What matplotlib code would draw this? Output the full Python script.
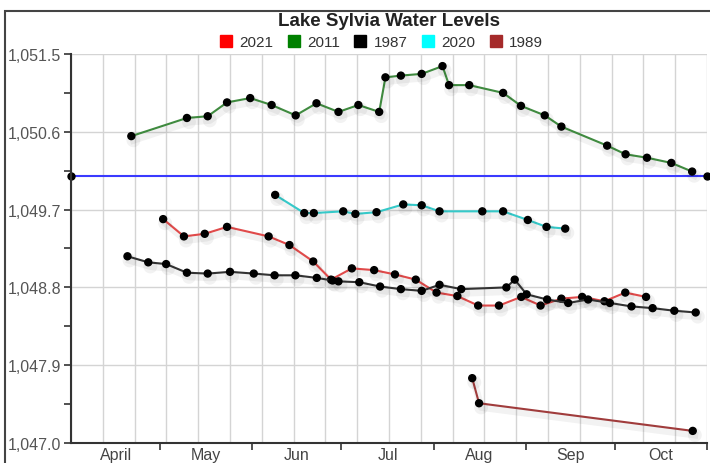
import matplotlib
matplotlib.use('Agg')
import matplotlib.pyplot as plt
import matplotlib.patheffects as pe
from matplotlib.lines import Line2D
from matplotlib.patches import Rectangle
import numpy as np

plt.rcParams['font.family'] = ['Liberation Sans', 'DejaVu Sans']

# x values are days counted from April 1
d2021 = [31, 38, 45, 52.5, 66.5, 73.5, 81.5, 87.5, 94.5, 102, 109, 116, 123, 130,
         137, 144, 151.5, 158, 165, 172, 179.5, 186.5, 193.5]
v2021 = [1049.59, 1049.39, 1049.42, 1049.50, 1049.39, 1049.29, 1049.10, 1048.89,
         1049.02, 1049.00, 1048.95, 1048.89, 1048.74, 1048.70, 1048.59, 1048.59,
         1048.69, 1048.59, 1048.67, 1048.69, 1048.64, 1048.74, 1048.69]

d2011 = [20.3, 39, 46, 52.5, 60.3, 67.5, 75.6, 82.6, 90, 96.7, 103.7, 105.8, 111,
         118, 125, 127.2, 134, 145.4, 151.4, 159.4, 165, 180.4, 186.6, 193.8, 202, 209]
v2011 = [1050.55, 1050.76, 1050.78, 1050.94, 1050.99, 1050.91, 1050.79, 1050.93,
         1050.83, 1050.91, 1050.83, 1051.23, 1051.25, 1051.27, 1051.36, 1051.14,
         1051.14, 1051.05, 1050.90, 1050.79, 1050.66, 1050.44, 1050.34, 1050.30,
         1050.24, 1050.14]

d1987 = [19, 26, 32, 39, 46, 53.5, 61.5, 68.5, 75.5, 82.7, 88, 90, 97, 104, 111,
         118, 124, 131.3, 146.5, 149.3, 153.3, 160.2, 167.3, 174, 181.3, 188.6,
         195.7, 203, 210.2]
v1987 = [1049.16, 1049.09, 1049.07, 1048.97, 1048.96, 1048.98, 1048.96, 1048.94,
         1048.94, 1048.91, 1048.88, 1048.87, 1048.86, 1048.81, 1048.78, 1048.76,
         1048.83, 1048.78, 1048.80, 1048.89, 1048.72, 1048.66, 1048.62, 1048.66,
         1048.62, 1048.58, 1048.56, 1048.53, 1048.51]

d2020 = [68.7, 78.5, 81.7, 91.6, 95.7, 102.8, 111.8, 118, 124, 138.4, 145.4, 153.7,
         160, 166.3]
v2020 = [1049.87, 1049.66, 1049.66, 1049.68, 1049.65, 1049.67, 1049.76, 1049.75,
         1049.68, 1049.68, 1049.68, 1049.58, 1049.50, 1049.48]

d1989 = [135, 137.3, 209.2]
v1989 = [1047.75, 1047.46, 1047.14]

ref_days = [0, 214]
ref_level = [1050.09, 1050.09]

month_starts = [0, 30, 61, 91, 122, 153, 183, 214]
month_names = ['April', 'May', 'Jun', 'Jul', 'Aug', 'Sep', 'Oct']
yticks = [1047.0, 1047.9, 1048.8, 1049.7, 1050.6, 1051.5]

fig = plt.figure(figsize=(7.1, 4.64), dpi=100)
ax = fig.add_axes([71 / 710, 1 - 444 / 464, 636 / 710, 389 / 464])

for gx in np.linspace(0, 214, 21):
    ax.axvline(gx, color='#d4d4d4', lw=1, zorder=0)
for gy in yticks:
    ax.axhline(gy, color='#d4d4d4', lw=1, zorder=0)

shadow = [pe.SimpleLineShadow(offset=(1.5, -3), shadow_color='#000000', alpha=0.05, linewidth=5),
          pe.Normal()]

series = [
    (d2021, v2021, '#e04a4a', '2021', '#ff0000'),
    (d2011, v2011, '#3f8a3f', '2011', '#008000'),
    (d1987, v1987, '#333333', '1987', '#000000'),
    (d2020, v2020, '#35c9c9', '2020', '#00ffff'),
    (d1989, v1989, '#a03c3c', '1989', '#a52a2a'),
]
for dx, vy, c, lab, lc in series:
    ax.plot(dx, vy, color=c, lw=1.5, marker='o', ms=5, mfc='black', mec='black',
            zorder=3, path_effects=shadow)

ax.plot(ref_days, ref_level, color='#3a3aff', lw=1.5, marker='o', ms=5,
        mfc='black', mec='black', zorder=2, clip_on=False)

ax.set_xlim(0, 214)
ax.set_ylim(1047.0, 1051.5)

ax.set_yticks(yticks)
ax.set_yticklabels(['{:,.1f}'.format(v) for v in yticks])
ax.set_yticks(np.arange(1047.45, 1051.5, 0.9), minor=True)
ax.tick_params(axis='y', which='both', length=5, width=1.2, color='#333333',
               labelsize=11.5, labelcolor='#555555', pad=2)

ax.set_xticks(month_starts[1:])
ax.set_xticklabels([])
mids = [(month_starts[i] + month_starts[i + 1]) / 2 for i in range(7)]
ax.set_xticks(mids, minor=True)
ax.set_xticklabels(month_names, minor=True)
ax.tick_params(axis='x', which='major', length=5, width=1.2, color='#333333')
ax.tick_params(axis='x', which='minor', length=0, labelsize=11.5,
               labelcolor='#444444', pad=3)

for s in ['top', 'right']:
    ax.spines[s].set_visible(False)
for s in ['left', 'bottom']:
    ax.spines[s].set_color('#333333')
    ax.spines[s].set_linewidth(1.5)

fig.text(389 / 710, 1 - 22 / 464, 'Lake Sylvia Water Levels', ha='center', va='center',
         fontsize=13.5, fontweight='bold', color='#222222')

handles = [Line2D([], [], ls='none', marker='s', ms=9, mfc=lc, mec=lc)
           for _, _, _, _, lc in series]
fig.legend(handles, [s[3] for s in series], loc='center', ncol=5, frameon=False,
           bbox_to_anchor=(381 / 710, 1 - 43 / 464), fontsize=11, handlelength=0.9,
           handletextpad=0.4, columnspacing=0.9, borderpad=0, labelcolor='#333333')

fig.patches.append(Rectangle((5 / 710, -0.02), 710 / 710, 1 - 12 / 464 + 0.02,
                             transform=fig.transFigure, fill=False,
                             edgecolor='#444444', lw=1.5))

fig.savefig('out.png', dpi=100)
